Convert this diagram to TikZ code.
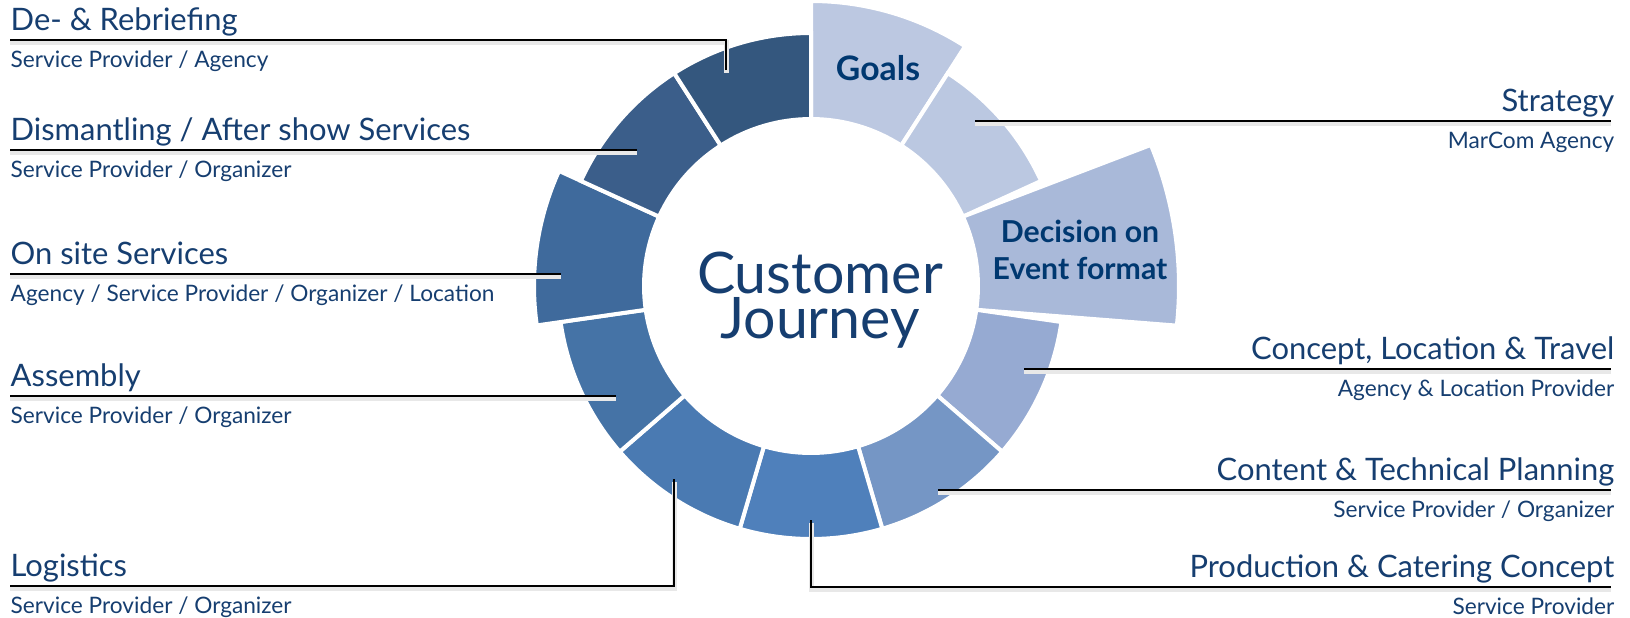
\documentclass[tikz,border=0pt]{standalone}
\usepackage{fontspec}
\setmainfont{Lato}
\usetikzlibrary{calc}
\definecolor{ink}{RGB}{22,62,112}
\definecolor{inkdark}{RGB}{0,56,112}
\definecolor{partA}{RGB}{188,200,225}
\definecolor{partB}{RGB}{187,200,225}
\definecolor{partC}{RGB}{169,185,217}
\definecolor{partD}{RGB}{150,170,210}
\definecolor{partE}{RGB}{117,150,197}
\definecolor{partF}{RGB}{79,128,187}
\definecolor{partG}{RGB}{74,122,178}
\definecolor{partH}{RGB}{69,115,166}
\definecolor{partI}{RGB}{63,106,156}
\definecolor{partJ}{RGB}{59,94,138}
\definecolor{partK}{RGB}{52,87,126}

\begin{document}
\begin{tikzpicture}[
stage/.style={font=\fontsize{8.8}{9}\selectfont, text=ink, inner sep=0pt},
who/.style={font=\fontsize{6.45}{7}\selectfont, text=ink, inner sep=0pt},
part/.style={draw=white, line width=0.04cm},
leader/.style={line width=0.027cm, black,
  preaction={draw=black!9, line width=0.05cm, transform canvas={yshift=-0.025cm}}}]
\useasboundingbox (0,0) rectangle (16.30,-6.17);
\coordinate (c) at (8.11,-2.86);

% ring of eleven parts, clockwise from the top
\foreach \i/\R/\d/\col in {0/2.85/0/partA, 1/2.53/0/partB, 2/3.68/2/partC,
  3/2.53/0/partD, 4/2.53/0/partE, 5/2.53/0/partF, 6/2.53/0/partG,
  7/2.53/0/partH, 8/2.77/0/partI, 9/2.53/0/partJ, 10/2.53/0/partK}{
  \pgfmathsetmacro\a{90-32.7273*\i}
  \pgfmathsetmacro\b{\a-32.7273}
  \pgfmathsetmacro\aa{\a-\d}
  \pgfmathsetmacro\bb{\b+\d}
  \filldraw[part, fill=\col] ([shift={(c)}]\a:1.67) arc[start angle=\a, end angle=\b, radius=1.67]
    -- ([shift={(c)}]\bb:\R) arc[start angle=\bb, end angle=\aa, radius=\R] -- cycle;
}

\node[font=\bfseries\fontsize{9.6}{10}\selectfont, text=inkdark] (goals) at (8.78,-0.68) {Goals};
\node[font=\bfseries\fontsize{8.6}{10.5}\selectfont, text=inkdark, align=center] (decision) at (10.80,-2.50) {Decision on\\Event format};
\node[font=\fontsize{16.3}{10.2}\selectfont, text=ink, align=center] (journey) at (8.20,-3.00) {Customer\\Journey};

% left side
\coordinate (lDe) at (0.10,-0.40);
\coordinate (pDe) at (7.26,-0.70);
\coordinate (lDis) at (0.10,-1.50);
\coordinate (pDis) at (6.37,-1.50);
\coordinate (lOn) at (0.10,-2.74);
\coordinate (pOn) at (5.61,-2.74);
\coordinate (lAss) at (0.10,-3.96);
\coordinate (pAss) at (6.16,-3.96);
\coordinate (lLog) at (0.10,-5.86);
\coordinate (pLog) at (6.74,-4.79);
\node[stage, anchor=base west] (tDe) at ([yshift=0.10cm]lDe) {De- \& Rebriefing};
\node[who, anchor=base west] (sDe) at ([yshift=-0.27cm]lDe) {Service Provider / Agency};
\node[stage, anchor=base west] (tDis) at ([yshift=0.10cm]lDis) {Dismantling / After show Services};
\node[who, anchor=base west] (sDis) at ([yshift=-0.27cm]lDis) {Service Provider / Organizer};
\node[stage, anchor=base west] (tOn) at ([yshift=0.10cm]lOn) {On site Services};
\node[who, anchor=base west] (sOn) at ([yshift=-0.27cm]lOn) {Agency / Service Provider / Organizer / Location};
\node[stage, anchor=base west] (tAss) at ([yshift=0.10cm]lAss) {Assembly};
\node[who, anchor=base west] (sAss) at ([yshift=-0.27cm]lAss) {Service Provider / Organizer};
\node[stage, anchor=base west] (tLog) at ([yshift=0.10cm]lLog) {Logistics};
\node[who, anchor=base west] (sLog) at ([yshift=-0.27cm]lLog) {Service Provider / Organizer};
\draw[leader] (lDe) -| (pDe);
\draw[leader] (lDis) -- (pDis);
\draw[leader] (lOn) -- (pOn);
\draw[leader] (lAss) -- (pAss);
\draw[leader] (lLog) -| (pLog);

% right side
\coordinate (rStr) at (16.11,-1.21);
\coordinate (pStr) at (9.75,-1.21);
\coordinate (rCon) at (16.11,-3.69);
\coordinate (pCon) at (10.24,-3.69);
\coordinate (rCnt) at (16.11,-4.90);
\coordinate (pCnt) at (9.38,-4.90);
\coordinate (rPro) at (16.11,-5.87);
\coordinate (pPro) at (8.11,-5.20);
\node[stage, anchor=base east] (tStr) at ([xshift=0.04cm, yshift=0.10cm]rStr) {Strategy};
\node[who, anchor=base east] (sStr) at ([xshift=0.04cm, yshift=-0.27cm]rStr) {MarCom Agency};
\node[stage, anchor=base east] (tCon) at ([xshift=0.04cm, yshift=0.10cm]rCon) {Concept, Location \& Travel};
\node[who, anchor=base east] (sCon) at ([xshift=0.04cm, yshift=-0.27cm]rCon) {Agency \& Location Provider};
\node[stage, anchor=base east] (tCnt) at ([xshift=0.04cm, yshift=0.10cm]rCnt) {Content \& Technical Planning};
\node[who, anchor=base east] (sCnt) at ([xshift=0.04cm, yshift=-0.27cm]rCnt) {Service Provider / Organizer};
\node[stage, anchor=base east] (tPro) at ([xshift=0.04cm, yshift=0.10cm]rPro) {Production \& Catering Concept};
\node[who, anchor=base east] (sPro) at ([xshift=0.04cm, yshift=-0.27cm]rPro) {Service Provider};
\draw[leader] (pStr) -- (rStr);
\draw[leader] (pCon) -- (rCon);
\draw[leader] (pCnt) -- (rCnt);
\draw[leader] (pPro) |- (rPro);
\end{tikzpicture}
\end{document}
